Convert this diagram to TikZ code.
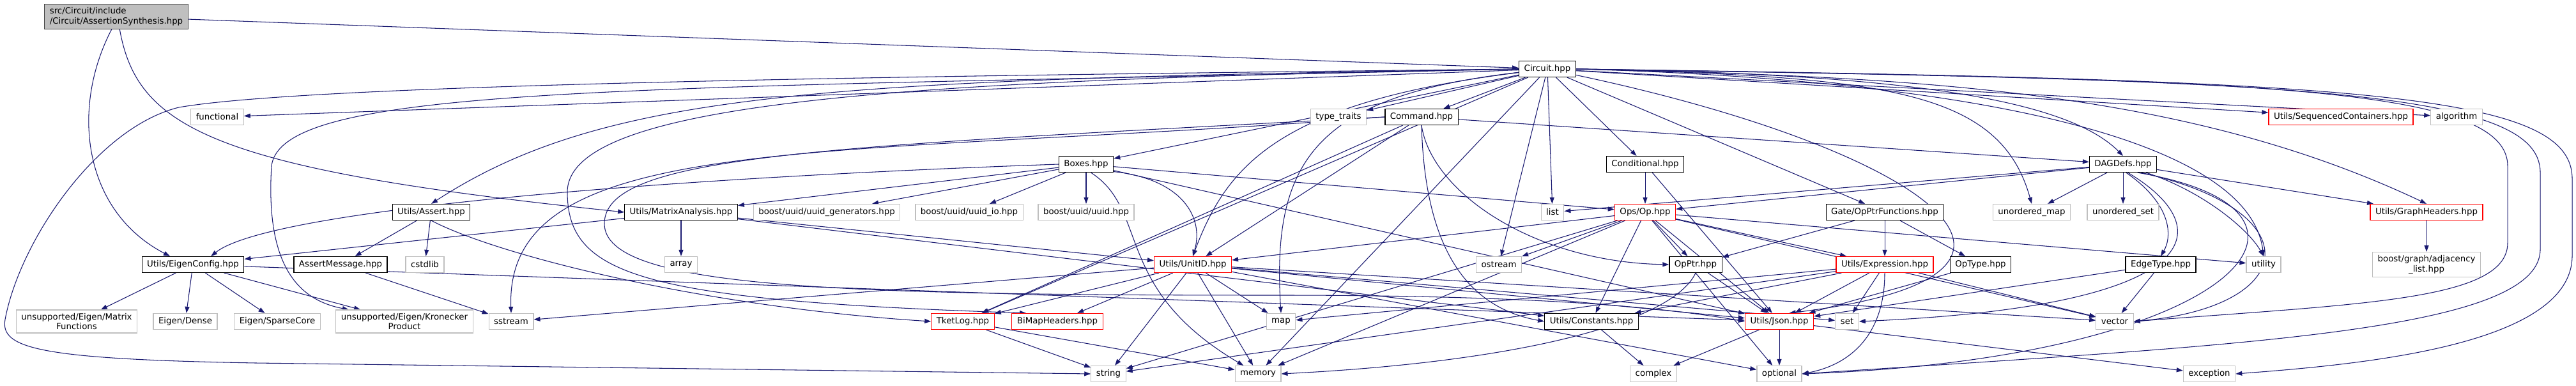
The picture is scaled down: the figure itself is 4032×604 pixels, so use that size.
\documentclass[tikz,border=0pt]{standalone}
\usepackage{fontspec}
\setmainfont{DejaVu Sans}
\usepackage{xcolor}
\usetikzlibrary{arrows.meta}
\definecolor{edgeblue}{HTML}{191970}
\definecolor{sysgray}{HTML}{BFBFBF}
\definecolor{rootedge}{HTML}{404040}
\pgfdeclarelayer{bg}
\pgfsetlayers{bg,main}

\begin{document}
\begin{tikzpicture}[
  x=0.02cm, y=-0.02cm,
  every node/.style={rectangle,fill=white,minimum height=0.5cm,inner xsep=0.16cm,inner ysep=0.1cm,
    font=\fontsize{7.6}{8.8}\selectfont},
  hdr/.style={draw=black,line width=0.7pt},
  redhdr/.style={draw=red,line width=0.7pt},
  syshdr/.style={draw=sysgray,line width=0.7pt},
  roothdr/.style={draw=rootedge,fill=sysgray,line width=0.7pt},
  dep/.style={->,draw=edgeblue,line width=0.6pt},
]
\tikzset{>={Triangle[length=0.2cm,width=0.14cm]}}
\useasboundingbox (0,0) rectangle (4032,604);
% files
\node[roothdr,align=left] (as) at (182,26) {src/Circuit/include\\/Circuit/AssertionSynthesis.hpp};
\node[hdr] (circ) at (2422,108) {Circuit.hpp};
\node[syshdr] (func) at (340,183) {functional};
\node[syshdr] (tyt) at (2095,183) {type\_traits};
\node[hdr] (cmd) at (2225,183) {Command.hpp};
\node[redhdr] (seqc) at (3664,183) {Utils/SequencedContainers.hpp};
\node[syshdr] (algo) at (3845,183) {algorithm};
\node[hdr] (boxes) at (1700,257) {Boxes.hpp};
\node[hdr] (cond) at (2575,257) {Conditional.hpp};
\node[hdr] (dag) at (3323,257) {DAGDefs.hpp};
\node[hdr] (ast) at (675,332) {Utils/Assert.hpp};
\node[hdr] (mat) at (1066,332) {Utils/MatrixAnalysis.hpp};
\node[syshdr] (uugen) at (1294,332) {boost/uuid/uuid\_generators.hpp};
\node[syshdr] (uuio) at (1517,332) {boost/uuid/uuid\_io.hpp};
\node[syshdr] (uuid) at (1700,332) {boost/uuid/uuid.hpp};
\node[syshdr] (lst) at (2430,332) {list};
\node[redhdr] (op) at (2575,332) {Ops/Op.hpp};
\node[hdr] (opf) at (2950,332) {Gate/OpPtrFunctions.hpp};
\node[syshdr] (umap) at (3180,332) {unordered\_map};
\node[syshdr] (uset) at (3323,332) {unordered\_set};
\node[redhdr] (graph) at (3798,332) {Utils/GraphHeaders.hpp};
\node[hdr] (eig) at (302,414) {Utils/EigenConfig.hpp};
\node[hdr] (amsg) at (533,414) {AssertMessage.hpp};
\node[syshdr] (cstd) at (665,414) {cstdlib};
\node[syshdr] (arr) at (1066,414) {array};
\node[redhdr] (uid) at (1867,414) {Utils/UnitID.hpp};
\node[syshdr] (ostr) at (2346,414) {ostream};
\node[hdr] (opp) at (2654,414) {OpPtr.hpp};
\node[redhdr] (expr) at (2950,414) {Utils/Expression.hpp};
\node[hdr] (otype) at (3100,414) {OpType.hpp};
\node[hdr] (edge) at (3382,414) {EdgeType.hpp};
\node[syshdr] (util) at (3543,414) {utility};
\node[syshdr,align=center] (adj) at (3798,414) {boost/graph/adjacency\\\_list.hpp};
\node[syshdr,align=center] (mfun) at (120,503) {unsupported/Eigen/Matrix\\Functions};
\node[syshdr] (dense) at (290,503) {Eigen/Dense};
\node[syshdr] (sparse) at (434,503) {Eigen/SparseCore};
\node[syshdr,align=center] (kron) at (633,503) {unsupported/Eigen/Kronecker\\Product};
\node[syshdr] (sstr) at (800,503) {sstream};
\node[redhdr] (tlog) at (1507,503) {TketLog.hpp};
\node[redhdr] (bimap) at (1655,503) {BiMapHeaders.hpp};
\node[syshdr] (mp) at (2005,503) {map};
\node[hdr] (cnst) at (2491,503) {Utils/Constants.hpp};
\node[redhdr] (json) at (2785,503) {Utils/Json.hpp};
\node[syshdr] (st) at (2891,503) {set};
\node[syshdr] (vec) at (3310,503) {vector};
\node[syshdr] (str) at (1735,585) {string};
\node[syshdr] (mem) at (1969,585) {memory};
\node[syshdr] (cplx) at (2588,585) {complex};
\node[syshdr] (optl) at (2785,585) {optional};
\node[syshdr] (exc) at (3458,585) {exception};

\begin{pgfonlayer}{bg}
% AssertionSynthesis.hpp
\draw[dep] (as) -- (circ);
\draw[dep] (as.250) .. controls (110,170) and (130,330) .. (eig.160);
\draw[dep] (as.285) .. controls (215,200) and (330,265) .. (mat.west);
% Circuit.hpp
\draw[dep] (circ) -- (func); \draw[dep] (circ) -- (tyt); \draw[dep] (circ) -- (cmd);
\draw[dep] (circ) -- (boxes); \draw[dep] (circ) -- (cond); \draw[dep] (circ) -- (opf);
\draw[dep] (circ) -- (lst); \draw[dep] (circ) -- (ostr); \draw[dep] (circ) -- (mem);
\draw[dep] (circ) -- (seqc); \draw[dep] (circ) -- (algo); \draw[dep] (circ) -- (tlog);
\draw[dep] (circ.west) .. controls (1300,125) and (950,140) .. (ast.north);
\draw[dep] (circ) .. controls (2000,160) and (1920,260) .. (uid.north);
\draw[dep] (circ) .. controls (2060,150) and (1990,250) .. (mp.north);
\draw[dep] (circ.east) .. controls (2950,120) and (3130,140) .. (umap.north);
\draw[dep] (circ.east) .. controls (2950,115) and (3230,150) .. (dag.north);
\draw[dep] (circ.east) .. controls (3100,125) and (3520,220) .. (util.north);
\draw[dep] (circ.east) .. controls (3000,120) and (3420,140) .. (graph.north);
\draw[dep] (circ) .. controls (3000,230) and (3300,430) .. (json.40);
\draw[dep] (circ.west) .. controls (1000,140) and (440,130) .. (425,260) .. controls (415,420) and (470,470) .. (kron.168);
\draw[dep] (circ.west) .. controls (1400,125) and (890,160) .. (888,300) .. controls (888,430) and (1000,470) .. (bimap.165);
\draw[dep] (circ.west) .. controls (1500,118) and (500,130) .. (280,168) .. controls (150,200) and (30,380) .. (8,500) .. controls (0,545) and (60,562) .. (400,568) -- (str.west);
\draw[dep] (circ.east) .. controls (3500,125) and (3925,130) .. (3925,260) -- (3925,380) .. controls (3925,470) and (3700,475) .. (vec.east);
\draw[dep] (circ.east) .. controls (3600,125) and (3976,140) .. (3976,270) -- (3976,390) .. controls (3976,520) and (3500,540) .. (optl.east);
\draw[dep] (circ.east) .. controls (3700,125) and (4026,145) .. (4026,280) -- (4026,400) .. controls (4026,540) and (3700,570) .. (exc.east);
% Command.hpp
\draw[dep] (cmd) -- (dag); \draw[dep] (cmd) -- (uid); \draw[dep] (cmd) -- (tlog);
\draw[dep] (cmd.south) .. controls (2240,300) and (2400,410) .. (opp.west);
\draw[dep] (cmd.south) .. controls (2230,380) and (2290,480) .. (cnst.west);
\draw[dep] (cmd.west) .. controls (1300,250) and (790,200) .. (sstr.north);
\draw[dep] (cmd.west) .. controls (1300,230) and (946,240) .. (946,350) .. controls (946,450) and (1300,462) .. (2000,462) .. controls (2400,462) and (2600,480) .. (json.west);
% Boxes.hpp
\draw[dep] (boxes) -- (uugen); \draw[dep] (boxes) -- (uuio); \draw[dep] (boxes) -- (uuid);
\draw[dep] (boxes) -- (mat); \draw[dep] (boxes) -- (op); \draw[dep] (boxes) -- (json);
\draw[dep] (boxes.west) .. controls (1000,280) and (420,330) .. (eig.25);
\draw[dep] (boxes.-15) .. controls (1850,280) and (1885,340) .. (uid.north);
\draw[dep] (boxes.-60) .. controls (1800,330) and (1740,450) .. (mem.150);
% Conditional.hpp
\draw[dep] (cond) -- (op); \draw[dep] (cond) -- (json);
% DAGDefs.hpp
\draw[dep] (dag) -- (lst); \draw[dep] (dag) -- (op); \draw[dep] (dag) -- (umap);
\draw[dep] (dag) -- (uset); \draw[dep] (dag) -- (graph);
\draw[dep] (dag.-70) .. controls (3400,320) and (3400,370) .. (edge.north);
\draw[dep] (dag.-20) .. controls (3450,300) and (3520,360) .. (util.north);
\draw[dep] (dag.-60) .. controls (3480,360) and (3450,480) .. (st.east);
\draw[dep] (dag.-25) .. controls (3620,330) and (3600,480) .. (vec.east);
\draw[dep] (dag.-30) .. controls (3700,330) and (3500,560) .. (optl.east);
% Gate/OpPtrFunctions.hpp
\draw[dep] (opf) -- (opp); \draw[dep] (opf) -- (expr); \draw[dep] (opf) -- (otype);
% Utils/Assert.hpp
\draw[dep] (ast) -- (amsg); \draw[dep] (ast) -- (cstd);
\draw[dep] (ast.south) .. controls (780,400) and (1100,480) .. (tlog.west);
\draw[dep] (amsg) -- (sstr);
% Utils/EigenConfig.hpp
\draw[dep] (eig) -- (mfun); \draw[dep] (eig) -- (dense); \draw[dep] (eig) -- (sparse);
\draw[dep] (eig) -- (kron); \draw[dep] (eig) -- (json);
% Utils/MatrixAnalysis.hpp
\draw[dep] (mat) -- (arr); \draw[dep] (mat) -- (eig); \draw[dep] (mat) -- (uid); \draw[dep] (mat) -- (cnst);
% Ops/Op.hpp
\draw[dep] (op) -- (ostr); \draw[dep] (op) -- (uid); \draw[dep] (op) -- (opp); \draw[dep] (op) -- (cnst);
\draw[dep] (op) -- (json); \draw[dep] (op) -- (expr); \draw[dep] (op) -- (str); \draw[dep] (op) -- (mem);
\draw[dep] (op) -- (optl); \draw[dep] (op) -- (vec); \draw[dep] (op) -- (util);
% Utils/UnitID.hpp
\draw[dep] (uid) -- (str); \draw[dep] (uid) -- (mem); \draw[dep] (uid) -- (mp); \draw[dep] (uid) -- (sstr);
\draw[dep] (uid) -- (tlog); \draw[dep] (uid) -- (bimap); \draw[dep] (uid) -- (json); \draw[dep] (uid) -- (optl);
\draw[dep] (uid) -- (st); \draw[dep] (uid) -- (vec);
% TketLog.hpp, OpPtr.hpp
\draw[dep] (tlog) -- (str); \draw[dep] (tlog) -- (mem);
\draw[dep] (opp) -- (json);
\draw[dep] (opp.south) .. controls (2620,500) and (2400,565) .. (mem.east);
% Utils/Expression.hpp
\draw[dep] (expr) -- (json); \draw[dep] (expr) -- (st); \draw[dep] (expr) -- (vec); \draw[dep] (expr) -- (mp);
\draw[dep] (expr) -- (str); \draw[dep] (expr) -- (cnst);
\draw[dep] (expr.south) .. controls (2950,520) and (2900,570) .. (optl.east);
% the rest
\draw[dep] (otype) -- (json); \draw[dep] (edge) -- (vec); \draw[dep] (edge) -- (json);
\draw[dep] (cnst) -- (cplx);
\draw[dep] (json) -- (optl); \draw[dep] (json) -- (cplx); \draw[dep] (json) -- (exc);
\draw[dep] (graph) -- (adj);
\end{pgfonlayer}
\end{tikzpicture}
\end{document}
